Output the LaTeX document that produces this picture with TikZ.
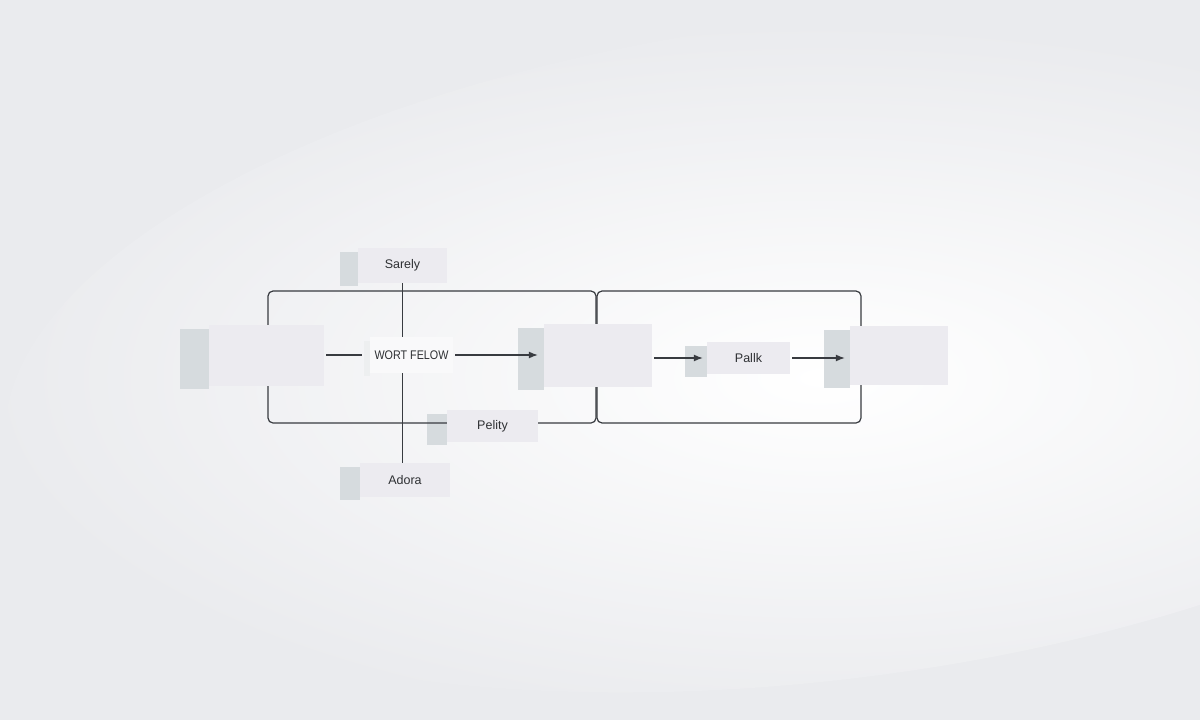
\documentclass[tikz,border=0pt]{standalone}
\usepackage{fontspec}
\setmainfont{Liberation Sans}
\usetikzlibrary{arrows.meta}
\definecolor{bgc}{HTML}{EAEBEE}
\definecolor{sidec}{HTML}{D6DBDE}
\definecolor{frontc}{HTML}{ECEBF0}
\definecolor{linec}{HTML}{383B40}
\definecolor{txtc}{HTML}{2E3033}
\pgfdeclarelayer{back}
\pgfdeclarelayer{side}
\pgfdeclarelayer{line}
\pgfsetlayers{back,side,line,main}
\tikzset{
  boxfront/.style={fill=frontc, draw=none, inner sep=0pt, font=\fontsize{12.5}{14}\selectfont, text=txtc},
  conn/.style={draw=linec, line width=1.2pt},
  arr/.style={conn, -{Latex[length=9pt,width=7pt]}},
  framebox/.style={draw=linec, line width=1.2pt, rounded corners=5pt}
}
\newcommand{\sidepanel}[3]{%
  \begin{pgfonlayer}{side}
  \fill[#3] ([xshift=-#2pt, yshift=-4pt]#1.north west) rectangle ([yshift=-3pt]#1.south west);
  \end{pgfonlayer}}
\begin{document}
\begin{tikzpicture}[x=1pt,y=-1pt]
\useasboundingbox (0,0) rectangle (1200,720);
\begin{pgfonlayer}{back}
\begin{scope}
\clip (0,0) rectangle (1200,720);
\fill[bgc] (0,0) rectangle (1200,720);
\shade[inner color=white, outer color=bgc, rotate around={7:(820,350)}] (820,350) ellipse [x radius=820, y radius=330];
\end{scope}
\end{pgfonlayer}

% nodes
\node[boxfront, minimum width=115pt, minimum height=61pt] (A) at (266.5,355.5) {};
\node[boxfront, minimum width=89pt, minimum height=35pt] (sarely) at (402.5,265.5) {Sarely};
\node[boxfront, fill=white!70!frontc, minimum width=83pt, minimum height=36pt] (wort) at (411.5,355) {\scalebox{0.86}[1]{WORT FELOW}};
\node[boxfront, minimum width=91pt, minimum height=32pt] (pelity) at (492.5,426) {Pelity};
\node[boxfront, minimum width=90pt, minimum height=34pt] (adora) at (405,480) {Adora};
\node[boxfront, minimum width=108pt, minimum height=63pt] (B) at (598,355.5) {};
\node[boxfront, minimum width=83pt, minimum height=32pt] (pallk) at (748.5,358) {Pallk};
\node[boxfront, minimum width=98pt, minimum height=59pt] (C) at (899,355.5) {};

% side panels
\sidepanel{A}{29}{sidec}
\sidepanel{sarely}{18}{sidec}
\sidepanel{wort}{6}{sidec!45!white}
\sidepanel{pelity}{20}{sidec}
\sidepanel{adora}{20}{sidec}
\sidepanel{B}{26}{sidec}
\sidepanel{pallk}{22}{sidec}
\sidepanel{C}{26}{sidec}

% frames and connectors
\coordinate (f1a) at (268,291);
\coordinate (f1b) at (596,423);
\coordinate (f2a) at (597,291);
\coordinate (f2b) at (861,423);
\begin{pgfonlayer}{line}
\draw[framebox] (f1a) rectangle (f1b);
\draw[framebox] (f2a) rectangle (f2b);
\draw[conn] (sarely.south) -- (sarely.south |- adora.north);
\draw[conn, shorten <=2pt, shorten >=8pt] (A.east |- wort.west) -- (wort.west);
\draw[arr, shorten <=2pt, shorten >=6pt] (wort.east) -- (wort.east -| B.west);
\draw[arr, shorten <=2pt, shorten >=4pt] (pallk.west -| B.east) -- (pallk.west);
\draw[arr, shorten <=2pt, shorten >=5pt] (pallk.east) -- (pallk.east -| C.west);
\end{pgfonlayer}
\end{tikzpicture}
\end{document}
